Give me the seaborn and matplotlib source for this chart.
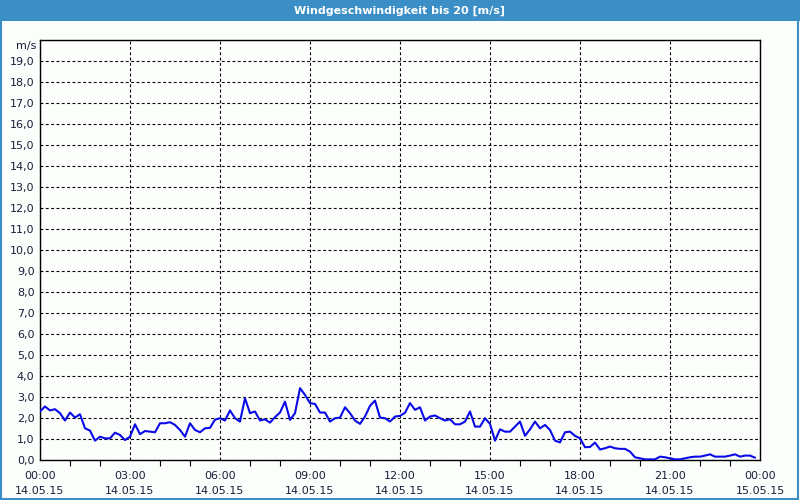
import numpy as np
import pandas as pd
import matplotlib
matplotlib.use("Agg")
import matplotlib.pyplot as plt
import matplotlib.dates as mdates
from matplotlib.ticker import FuncFormatter, FixedLocator
from matplotlib.patches import Rectangle
import seaborn as sns

# ---- data ----
start_time = "2015-05-14 00:00"
end_time = "2015-05-15 00:00"
interval = "10min"
wind_speed = [
    2.31, 2.55, 2.36, 2.42, 2.23, 1.88, 2.26, 2.02, 2.18, 1.51,
    1.40, 0.92, 1.11, 1.03, 1.03, 1.30, 1.19, 0.95, 1.11, 1.70,
    1.23, 1.38, 1.35, 1.32, 1.75, 1.75, 1.80, 1.67, 1.43, 1.11,
    1.75, 1.43, 1.32, 1.51, 1.53, 1.92, 1.99, 1.88, 2.36, 1.99,
    1.83, 2.94, 2.23, 2.31, 1.88, 1.94, 1.78, 2.04, 2.26, 2.78,
    1.91, 2.23, 3.42, 3.10, 2.71, 2.67, 2.26, 2.26, 1.83, 1.99,
    2.02, 2.51, 2.23, 1.88, 1.72, 2.07, 2.58, 2.83, 2.02, 1.99,
    1.83, 2.07, 2.10, 2.25, 2.71, 2.39, 2.51, 1.88, 2.07, 2.12,
    1.99, 1.88, 1.94, 1.70, 1.70, 1.83, 2.31, 1.59, 1.59, 1.99,
    1.72, 0.92, 1.46, 1.35, 1.35, 1.59, 1.83, 1.15, 1.46, 1.83,
    1.51, 1.67, 1.43, 0.92, 0.84, 1.32, 1.35, 1.15, 1.03, 0.61,
    0.62, 0.83, 0.50, 0.56, 0.64, 0.56, 0.53, 0.53, 0.40, 0.13,
    0.08, 0.03, 0.03, 0.03, 0.16, 0.13, 0.08, 0.03, 0.03, 0.08,
    0.13, 0.16, 0.16, 0.21, 0.27, 0.16, 0.16, 0.16, 0.21, 0.27,
    0.16, 0.21, 0.21, 0.11,
]
y_ticks = list(range(0, 20))
title = "Windgeschwindigkeit bis 20 [m/s]"
unit_label = "m/s"

times = pd.date_range(start_time, periods=len(wind_speed), freq=interval)
df = pd.DataFrame({"time": times, "speed": wind_speed})

# ---- style ----
sns.set_theme(style="white")
plt.rcParams["font.family"] = ["DejaVu Sans"]

BG = "#fcfefc"
FRAME = "#3c8fc6"
TXT = "#1c1c3a"

fig = plt.figure(figsize=(8, 5), dpi=100, facecolor=BG)
ax = fig.add_axes([0.05, 0.08, 0.90, 0.84])
ax.set_facecolor(BG)

sns.lineplot(data=df, x="time", y="speed", ax=ax, color="#0a0ae6",
             linewidth=1.5, zorder=3)

ax.set_xlim(pd.Timestamp(start_time), pd.Timestamp(end_time))
ax.set_ylim(0, 20)
ax.yaxis.set_major_locator(FixedLocator(y_ticks + [20]))
ax.yaxis.set_major_formatter(FuncFormatter(
    lambda v, p: "" if v >= 20 else f"{v:.1f}".replace(".", ",")))
ax.xaxis.set_major_locator(mdates.HourLocator(byhour=range(0, 24, 3)))
ax.xaxis.set_minor_locator(mdates.HourLocator())
ax.xaxis.set_major_formatter(mdates.DateFormatter("%H:%M\n%d.%m.%y"))

ax.grid(True, which="major", color="black", linestyle=(0, (2.6, 2.2)),
        linewidth=0.8)
for s in ax.spines.values():
    s.set_color("black")
    s.set_linewidth(1.0)

ax.tick_params(axis="x", which="major", length=4, width=0.8, color="black",
               labelsize=8, labelcolor=TXT, pad=4, direction="out")
ax.tick_params(axis="x", which="minor", length=4, width=0.8, color="black",
               bottom=True, direction="out")
ax.tick_params(axis="y", which="major", length=0, labelsize=8,
               labelcolor=TXT, pad=4)
for lbl in ax.get_xticklabels():
    lbl.set_linespacing(1.65)
ax.set_xlabel("")
ax.set_ylabel("")

fig.text(0.045, 0.908, unit_label, ha="right", va="center", fontsize=8,
         color=TXT)

# title bar and frame
fig.patches.append(Rectangle((0, 0.958), 1, 0.042, transform=fig.transFigure,
                             facecolor=FRAME, edgecolor="none", zorder=0))
fig.patches.append(Rectangle((0.001, 0.002), 0.997, 0.997,
                             transform=fig.transFigure, facecolor="none",
                             edgecolor=FRAME, linewidth=1.5, zorder=5))
fig.text(0.5, 0.979, title, ha="center", va="center", fontsize=8,
         fontweight="bold", color="white")

fig.savefig("out.png", dpi=100, facecolor=BG)
